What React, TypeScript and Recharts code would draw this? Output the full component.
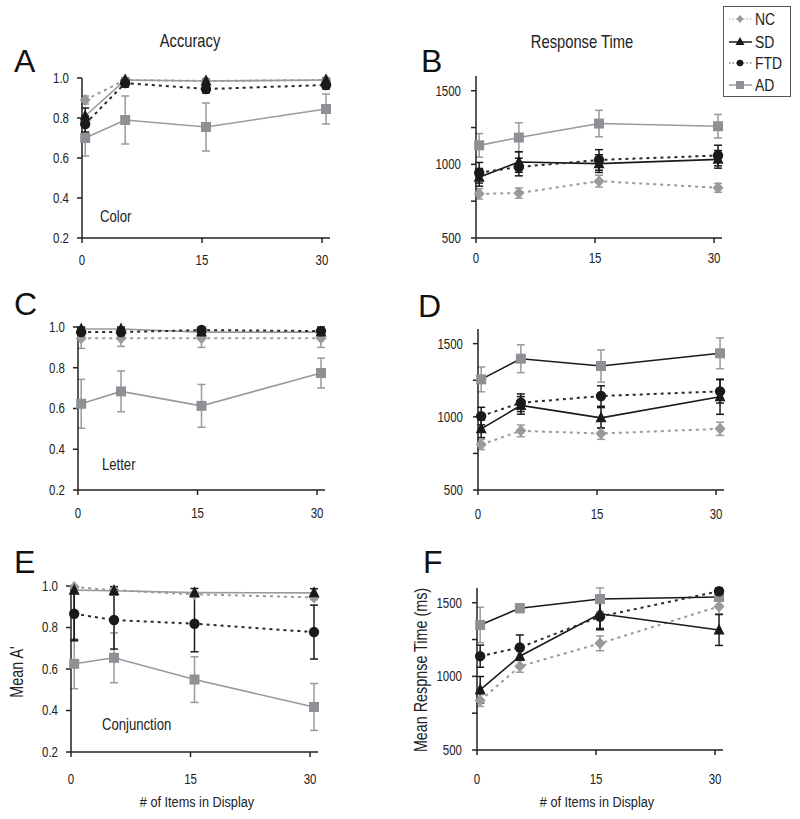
import React from 'react';
import { LineChart, Line, XAxis, YAxis, ErrorBar } from 'recharts';

const FONT_REG = "'Liberation Sans', Arial, sans-serif";
const NARROW = 0.82;

type Err = number | [number, number];

// x positions (set sizes) and tick labels
const setSizes = [0.4, 5.4, 15.5, 30.5];
const xTicks = [0, 15, 30];
const accTicks = [0.2, 0.4, 0.6, 0.8, 1.0];
const rtTicks = [500, 750, 1000, 1250, 1500];
const rtLabelled = [500, 1000, 1500];
const groups = ['NC', 'SD', 'FTD', 'AD'];

// Panel A: Color – accuracy
const colorAccMean = { NC: [0.89, 0.99, 0.985, 0.99], SD: [0.81, 0.99, 0.985, 0.99], FTD: [0.77, 0.975, 0.945, 0.965], AD: [0.70, 0.79, 0.755, 0.845] };
const colorAccErr: Record<string, Err[]> = { NC: [0.02, 0.01, 0.01, 0.01], SD: [0.04, 0.01, 0.01, 0.01], FTD: [0.04, 0.02, 0.02, 0.02], AD: [0.09, 0.12, 0.12, 0.075] };

// Panel B: Color – response time
const colorRtMean = { NC: [800, 805, 886, 841], SD: [912, 1016, 1005, 1034], FTD: [943, 982, 1030, 1060], AD: [1129, 1182, 1277, 1259] };
const colorRtErr: Record<string, Err[]> = { NC: [35, 35, 40, 30], SD: [60, 70, 60, 60], FTD: [70, 60, 70, 70], AD: [80, 100, 90, 80] };

// Panel C: Letter – accuracy
const letterAccMean = { NC: [0.945, 0.945, 0.945, 0.945], SD: [0.99, 0.99, 0.975, 0.975], FTD: [0.975, 0.975, 0.985, 0.98], AD: [0.623, 0.684, 0.613, 0.774] };
const letterAccErr: Record<string, Err[]> = { NC: [0.05, 0.04, 0.045, 0.045], SD: [0.01, 0.01, 0.01, 0.01], FTD: [0.02, 0.02, 0.015, 0.02], AD: [0.12, 0.10, 0.105, 0.073] };

// Panel D: Letter – response time
const letterRtMean = { NC: [811, 904, 886, 918], SD: [918, 1078, 993, 1137], FTD: [1005, 1096, 1142, 1174], AD: [1256, 1397, 1347, 1434] };
const letterRtErr: Record<string, Err[]> = { NC: [35, 40, 40, 45], SD: [60, 60, 70, 120], FTD: [60, 60, 70, 80], AD: [85, 95, 110, 105] };

// Panel E: Conjunction – accuracy (Mean A')
const conjAccMean = { NC: [0.995, 0.98, 0.96, 0.945], SD: [0.98, 0.977, 0.968, 0.967], FTD: [0.866, 0.836, 0.818, 0.778], AD: [0.625, 0.654, 0.549, 0.417] };
const conjAccErr: Record<string, Err[]> = { NC: [0.005, 0.01, 0.01, 0.01], SD: [[0.24, 0.02], 0.02, 0.02, 0.02], FTD: [0.13, 0.14, 0.135, 0.13], AD: [0.12, 0.12, 0.11, 0.113] };

// Panel F: Conjunction – response time
const conjRtMean = { NC: [836, 1068, 1224, 1475], SD: [909, 1137, 1425, 1315], FTD: [1137, 1196, 1406, 1578], AD: [1349, 1463, 1525, 1539] };
const conjRtErr: Record<string, Err[]> = { NC: [40, 40, 50, 50], SD: [90, 70, 100, 105], FTD: [75, 85, 90, [60, 22]], AD: [120, 30, [85, 75], 60] };

const GRAY = '#9a9a9a';
const SQ = '#8d9196';
const BLACK = '#1a1a1a';

function buildRows(means: Record<string, number[]>, errs: Record<string, Err[]>) {
  return setSizes.map((x, i) => {
    const row: any = { x };
    groups.forEach((g) => {
      row[g] = means[g][i];
      row[g + '_err'] = errs[g][i];
    });
    return row;
  });
}

const shapeDot = (shape: string, fill: string) => (props: any) => {
  const { cx, cy, index } = props;
  const key = `${shape}-${index}`;
  if (cx == null || cy == null) return <g key={key} />;
  if (shape === 'diamond')
    return <polygon key={key} points={`${cx},${cy - 6} ${cx + 5.5},${cy} ${cx},${cy + 6} ${cx - 5.5},${cy}`} fill={fill} />;
  if (shape === 'triangle')
    return <polygon key={key} points={`${cx},${cy - 6.5} ${cx + 5.5},${cy + 4.5} ${cx - 5.5},${cy + 4.5}`} fill={fill} />;
  if (shape === 'circle') return <circle key={key} cx={cx} cy={cy} r={5.2} fill={fill} />;
  return <rect key={key} x={cx - 5} y={cy - 5} width={10} height={10} fill={fill} />;
};

// narrow-looking tick text (Liberation Sans horizontally condensed)
const makeTick = (anchor: 'middle' | 'end', fmt: (v: number) => string) => (props: any) => {
  const { x, y, payload, index } = props;
  return (
    <text
      key={`t-${index}`}
      transform={`translate(${x},${y}) scale(${NARROW},1)`}
      textAnchor={anchor}
      dy={anchor === 'end' ? '0.355em' : '0.71em'}
      fontSize={14}
      fill="#222"
      fontFamily={FONT_REG}
    >
      {fmt(payload.value)}
    </text>
  );
};

const YW = 50;
const MT = 20;
const MR = 20;
const XH = 40;

type PanelCfg = {
  means: Record<string, number[]>;
  errs: Record<string, Err[]>;
  left: number; right: number; top: number; bottom: number;
  acc: boolean;
  xTickMargin: number;
  sdStroke: string;
  adStroke: string;
};

function Panel({ cfg }: { cfg: PanelCfg }) {
  const data = buildRows(cfg.means, cfg.errs);
  const width = cfg.right - cfg.left + YW + MR;
  const height = cfg.bottom - cfg.top + MT + XH;
  const yFmt = (v: number) => (cfg.acc ? v.toFixed(1) : rtLabelled.includes(v) ? String(v) : '');
  return (
    <div style={{ position: 'absolute', left: cfg.left - YW, top: cfg.top - MT, width, height }}>
      <LineChart width={width} height={height} data={data} margin={{ top: MT, right: MR, left: 0, bottom: 0 }}>
        <XAxis
          type="number"
          dataKey="x"
          domain={[0, 31]}
          ticks={xTicks}
          interval={0}
          height={XH}
          tickSize={5}
          tickMargin={cfg.xTickMargin}
          tick={makeTick('middle', (v) => String(v))}
          axisLine={{ stroke: '#222', strokeWidth: 1.5 }}
          tickLine={{ stroke: '#222', strokeWidth: 1.5 }}
        />
        <YAxis
          type="number"
          domain={cfg.acc ? [0.2, 1.0] : [500, 1600]}
          ticks={cfg.acc ? accTicks : rtTicks}
          interval={0}
          width={YW}
          tickSize={5}
          tickMargin={cfg.acc ? 8 : 10}
          tick={makeTick('end', yFmt)}
          axisLine={{ stroke: '#222', strokeWidth: 1.5 }}
          tickLine={{ stroke: '#222', strokeWidth: 1.5 }}
        />
        <Line dataKey="AD" stroke={cfg.adStroke} strokeWidth={1.6} dot={shapeDot('square', SQ)} activeDot={false} isAnimationActive={false}>
          <ErrorBar dataKey="AD_err" width={4} stroke={GRAY} strokeWidth={1.5} isAnimationActive={false} />
        </Line>
        <Line dataKey="NC" stroke={GRAY} strokeWidth={2} strokeDasharray="3 4" dot={shapeDot('diamond', GRAY)} activeDot={false} isAnimationActive={false}>
          <ErrorBar dataKey="NC_err" width={4} stroke={GRAY} strokeWidth={1.5} isAnimationActive={false} />
        </Line>
        <Line dataKey="SD" stroke={cfg.sdStroke} strokeWidth={1.6} dot={shapeDot('triangle', BLACK)} activeDot={false} isAnimationActive={false}>
          <ErrorBar dataKey="SD_err" width={4} stroke={BLACK} strokeWidth={1.5} isAnimationActive={false} />
        </Line>
        <Line dataKey="FTD" stroke="#2a2a2a" strokeWidth={2} strokeDasharray="3 4" dot={shapeDot('circle', BLACK)} activeDot={false} isAnimationActive={false}>
          <ErrorBar dataKey="FTD_err" width={4} stroke={BLACK} strokeWidth={1.5} isAnimationActive={false} />
        </Line>
      </LineChart>
    </div>
  );
}

const panels: PanelCfg[] = [
  { means: colorAccMean, errs: colorAccErr, left: 82, right: 330, top: 78, bottom: 238, acc: true, xTickMargin: 12, sdStroke: GRAY, adStroke: GRAY },
  { means: colorRtMean, errs: colorRtErr, left: 476, right: 722, top: 76, bottom: 238, acc: false, xTickMargin: 10, sdStroke: BLACK, adStroke: GRAY },
  { means: letterAccMean, errs: letterAccErr, left: 78, right: 325, top: 327, bottom: 490, acc: true, xTickMargin: 13, sdStroke: GRAY, adStroke: GRAY },
  { means: letterRtMean, errs: letterRtErr, left: 478, right: 724, top: 329, bottom: 490, acc: false, xTickMargin: 14, sdStroke: BLACK, adStroke: BLACK },
  { means: conjAccMean, errs: conjAccErr, left: 71, right: 318, top: 586, bottom: 752, acc: true, xTickMargin: 17, sdStroke: GRAY, adStroke: GRAY },
  { means: conjRtMean, errs: conjRtErr, left: 477, right: 723, top: 588, bottom: 750, acc: false, xTickMargin: 19, sdStroke: BLACK, adStroke: BLACK },
];

function NText({ x, y, size, anchor = 'start', rotate = 0, children }: { x: number; y: number; size: number; anchor?: 'start' | 'middle' | 'end'; rotate?: number; children: React.ReactNode }) {
  return (
    <text
      transform={`translate(${x},${y}) rotate(${rotate}) scale(${NARROW},1)`}
      textAnchor={anchor}
      fontFamily={FONT_REG}
      fontSize={size}
      fill="#222"
    >
      {children}
    </text>
  );
}

function Overlay() {
  const letters = [
    { t: 'A', x: 14, y: 72 },
    { t: 'B', x: 421, y: 72 },
    { t: 'C', x: 14, y: 315 },
    { t: 'D', x: 418, y: 317 },
    { t: 'E', x: 14, y: 573 },
    { t: 'F', x: 423, y: 573 },
  ];
  const legendRows = [
    { name: 'NC', y: 19 },
    { name: 'SD', y: 42 },
    { name: 'FTD', y: 63 },
    { name: 'AD', y: 85 },
  ];
  return (
    <svg width={800} height={819} style={{ position: 'absolute', left: 0, top: 0, pointerEvents: 'none' }}>
      {letters.map((l) => (
        <text key={l.t} x={l.x} y={l.y} fontFamily={FONT_REG} fontSize={32} fill="#111">{l.t}</text>
      ))}
      <NText x={190} y={47} size={18} anchor="middle">Accuracy</NText>
      <NText x={582} y={48} size={18} anchor="middle">Response Time</NText>
      <NText x={100} y={222} size={16}>Color</NText>
      <NText x={102} y={470} size={16}>Letter</NText>
      <NText x={102} y={730} size={16}>Conjunction</NText>
      <NText x={197} y={807} size={15.5} anchor="middle"># of Items in Display</NText>
      <NText x={597} y={807} size={15.5} anchor="middle"># of Items in Display</NText>
      <NText x={23} y={672} size={17.5} anchor="middle" rotate={-90}>Mean A'</NText>
      <NText x={427} y={670} size={17.5} anchor="middle" rotate={-90}>Mean Respnse Time (ms)</NText>
      <rect x={723.5} y={6.5} width={67} height={90} fill="#fff" stroke="#555" strokeWidth={1} />
      {legendRows.map((r) => {
        const cx = 740;
        const cy = r.y;
        let line: React.ReactNode = null;
        let mark: React.ReactNode = null;
        if (r.name === 'NC') {
          line = <line x1={729} x2={752} y1={cy} y2={cy} stroke={GRAY} strokeWidth={1} strokeDasharray="1.5 2" />;
          mark = <polygon points={`${cx},${cy - 4} ${cx + 3.5},${cy} ${cx},${cy + 4} ${cx - 3.5},${cy}`} fill={GRAY} />;
        } else if (r.name === 'SD') {
          line = <line x1={729} x2={752} y1={cy} y2={cy} stroke={BLACK} strokeWidth={1.5} />;
          mark = <polygon points={`${cx},${cy - 5} ${cx + 4.5},${cy + 3} ${cx - 4.5},${cy + 3}`} fill={BLACK} />;
        } else if (r.name === 'FTD') {
          line = <line x1={729} x2={752} y1={cy} y2={cy} stroke="#444" strokeWidth={1} strokeDasharray="1.5 2" />;
          mark = <circle cx={cx} cy={cy} r={3.3} fill={BLACK} />;
        } else {
          line = <line x1={729} x2={752} y1={cy} y2={cy} stroke={GRAY} strokeWidth={1.5} />;
          mark = <rect x={cx - 4} y={cy - 4} width={8} height={8} fill={SQ} />;
        }
        return (
          <g key={r.name}>
            {line}
            {mark}
            <NText x={755} y={cy + 6} size={17}>{r.name}</NText>
          </g>
        );
      })}
    </svg>
  );
}

export default function App() {
  return (
    <div style={{ position: 'absolute', left: 0, top: 0, width: 800, height: 819, background: '#fff' }}>
      {panels.map((p, i) => (
        <Panel key={i} cfg={p} />
      ))}
      <Overlay />
    </div>
  );
}
